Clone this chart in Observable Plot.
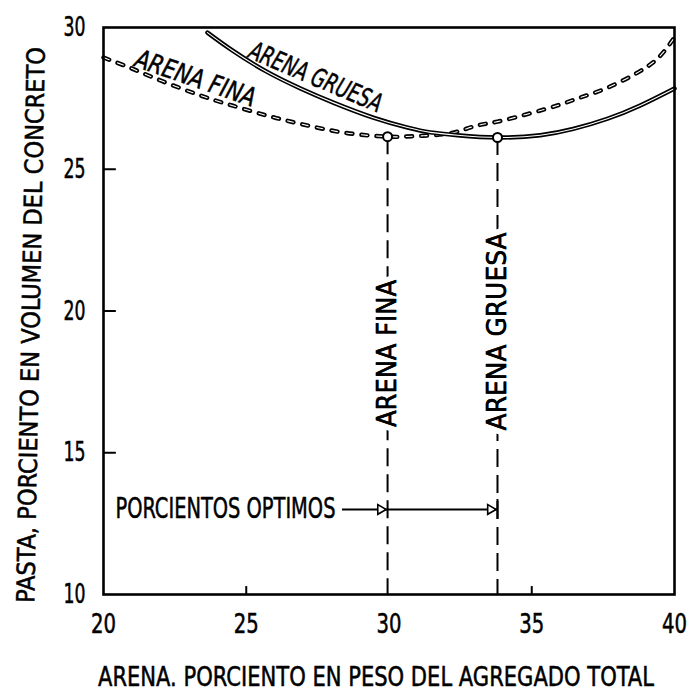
<!DOCTYPE html>
<html>
<head>
<meta charset="utf-8">
<script src="https://cdn.jsdelivr.net/npm/d3@7"></script>
<script src="https://cdn.jsdelivr.net/npm/@observablehq/plot@0.6"></script>
<style>
  html, body { margin: 0; padding: 0; background: #fff; }
</style>
</head>
<body>
<div id="chart"></div>
<script>
// ---- data ----
const xTicks = [20, 25, 30, 35, 40];
const yTicks = [10, 15, 20, 25, 30];
const innerXTicks = [25, 35];
const innerYTicks = [15, 20, 25];

// ARENA FINA (dashed curve)
const xFina = [20, 21, 22, 23.4, 24.5, 25.7, 26.9, 28.5, 29.95, 30.5, 31.2, 32.2, 33, 33.8, 34.9, 35.9, 36.7, 37.6, 38.6, 39.4, 40];
const yFina = [28.94, 28.55, 28.13, 27.6, 27.25, 26.9, 26.6, 26.28, 26.15, 26.15, 26.18, 26.28, 26.52, 26.68, 26.96, 27.25, 27.53, 27.85, 28.35, 28.9, 29.65];

// ARENA GRUESA (solid curve)
const xGruesa = [23.64, 24.5, 25.7, 26.9, 28.05, 29.45, 30.65, 31.45, 32.4, 33.8, 35.3, 36.45, 37.65, 38.8, 40];
const yGruesa = [29.82, 29.2, 28.45, 27.85, 27.35, 26.82, 26.47, 26.3, 26.2, 26.12, 26.2, 26.42, 26.78, 27.25, 27.85];

// optimum points
const optimoX = [29.95, 33.8];
const optimoY = [26.15, 26.12];
const optimoNames = ["ARENA FINA", "ARENA GRUESA"];
const optimoLabelY = [18.5, 19.28];
const arrowY = 13;
const arrowStartX = 28.37;
const arrowLabel = "PORCIENTOS OPTIMOS";

// curve labels
const curveNames = ["ARENA FINA", "ARENA GRUESA"];
const curveLabelX = [23.22, 27.43];
const curveLabelY = [28.2, 28.24];
const curveLabelAngle = [19, 23];

const xTitle = "ARENA. PORCIENTO EN PESO DEL AGREGADO TOTAL";
const yTitle = "PASTA, PORCIENTO EN VOLUMEN DEL CONCRETO";

// ---- tables built from the arrays ----
const fina = xFina.map((x, i) => ({x, y: yFina[i]}));
const gruesa = xGruesa.map((x, i) => ({x, y: yGruesa[i]}));
const optimos = optimoX.map((x, i) => ({x, y: optimoY[i], name: optimoNames[i], ly: optimoLabelY[i]}));
const curveLabels = curveNames.map((name, i) => ({name, x: curveLabelX[i], y: curveLabelY[i], a: curveLabelAngle[i]}));

const FONT = "'Liberation Sans Narrow', 'DejaVu Sans Condensed', 'DejaVu Sans', sans-serif";
const ink = {fill: "black", stroke: "black", strokeWidth: 0.5};
const tag = (name) => ({ariaLabel: () => name});

const chart = Plot.plot({
  width: 690,
  height: 693,
  marginLeft: 103,
  marginRight: 16,
  marginTop: 27,
  marginBottom: 99,
  style: {fontFamily: FONT, fontSize: "26px", color: "black", background: "white"},
  x: {domain: [20, 40]},
  y: {domain: [10, 30]},
  marks: [
    Plot.axisX({ticks: xTicks, tickSize: 0, tickPadding: 19, label: null, fontSize: 27}),
    Plot.axisY({ticks: yTicks, tickSize: 0, tickPadding: 18, label: null, fontSize: 27}),
    // inward ticks
    Plot.ruleX(innerXTicks, {y1: 10, y2: 10.28, stroke: "black", strokeWidth: 2}),
    Plot.ruleY(innerYTicks, {x1: 20, x2: 20.45, stroke: "black", strokeWidth: 2}),
    // vertical dashed optimum lines
    Plot.ruleX(optimos, {x: "x", y1: "y", y2: 10, stroke: "black", strokeWidth: 2, strokeDasharray: "18,8"}),
    // curves (outlined look)
    Plot.line(fina, {x: "x", y: "y", curve: "natural", stroke: "black", strokeWidth: 4.4, strokeDasharray: "6,9", strokeLinecap: "round"}),
    Plot.line(fina, {x: "x", y: "y", curve: "natural", stroke: "white", strokeWidth: 1.1, strokeDasharray: "6,9", strokeLinecap: "round"}),
    Plot.line(gruesa, {x: "x", y: "y", curve: "natural", stroke: "black", strokeWidth: 4.4}),
    Plot.line(gruesa, {x: "x", y: "y", curve: "natural", stroke: "white", strokeWidth: 1.1}),
    // optimum circles
    Plot.dot(optimos, {x: "x", y: "y", r: 4.5, fill: "white", stroke: "black", strokeWidth: 2}),
    // vertical labels with white halo to break the dashed lines
    Plot.text(optimos, {x: "x", y: "ly", text: "name", rotate: -90, textAnchor: "middle", lineAnchor: "middle",
      fill: "black", stroke: "white", strokeWidth: 12, fontSize: 27, ...tag("optlabels")}),
    Plot.text(optimos, {x: "x", y: "ly", text: "name", rotate: -90, textAnchor: "middle", lineAnchor: "middle",
      ...ink, fontSize: 27, ...tag("optlabels")}),
    // optimum arrow line
    Plot.ruleY([arrowY], {x1: arrowStartX, x2: optimoX[1], stroke: "black", strokeWidth: 2}),
    Plot.ruleX([optimoX[1]], {y1: arrowY - 0.35, y2: arrowY + 0.35, stroke: "black", strokeWidth: 2}),
    Plot.dot(optimoX, {x: d => d, y: arrowY, symbol: "triangle", rotate: 90, r: 3.6, dx: -7,
      fill: "white", stroke: "black", strokeWidth: 1.6}),
    Plot.text([arrowLabel], {x: arrowStartX, y: arrowY, dx: -7, textAnchor: "end", lineAnchor: "middle",
      fontSize: 28, ...ink, ...tag("arrowlabel")}),
    // curve labels
    Plot.text(curveLabels, {x: "x", y: "y", text: "name", rotate: "a", textAnchor: "middle", lineAnchor: "middle",
      fontSize: 26, fontStyle: "italic", ...ink, ...tag("curvelabels")}),
    // axis titles
    Plot.text([xTitle], {frameAnchor: "bottom", dy: 83, dx: -13, textAnchor: "middle", lineAnchor: "middle",
      fontSize: 27, ...ink, ...tag("xtitle")}),
    Plot.text([yTitle], {frameAnchor: "left", dx: -72, dy: 14, rotate: -88.9, textAnchor: "middle", lineAnchor: "middle",
      fontSize: 25, ...ink, ...tag("ytitle")}),
    Plot.frame({stroke: "black", strokeWidth: 2.6})
  ]
});

document.getElementById("chart").appendChild(chart);

// fit hand-lettered widths (condensed lettering)
const lengths = {
  "optlabels": t => (t === "ARENA FINA" ? 147 : 198),
  "arrowlabel": () => 220,
  "curvelabels": t => (t === "ARENA FINA" ? 126 : 142),
  "xtitle": () => 556,
  "ytitle": () => 556
};
const svg = d3.select(chart.tagName.toLowerCase() === "svg" ? chart : chart.querySelector("svg"));
svg.selectAll('g[aria-label="x-axis tick label"] text').each(function () {
  this.setAttribute("textLength", 25);
  this.setAttribute("lengthAdjust", "spacingAndGlyphs");
});
svg.selectAll('g[aria-label="y-axis tick label"] text').each(function () {
  this.setAttribute("textLength", 22);
  this.setAttribute("lengthAdjust", "spacingAndGlyphs");
});
svg.selectAll('g[aria-label="x-axis tick label"] text, g[aria-label="y-axis tick label"] text')
  .attr("stroke", "black").attr("stroke-width", 0.5).attr("fill", "black");
for (const [key, fn] of Object.entries(lengths)) {
  svg.selectAll(`text[aria-label="${key}"]`).each(function () {
    const t = this.textContent;
    this.setAttribute("textLength", fn(t));
    this.setAttribute("lengthAdjust", "spacingAndGlyphs");
  });
}
</script>
</body>
</html>
